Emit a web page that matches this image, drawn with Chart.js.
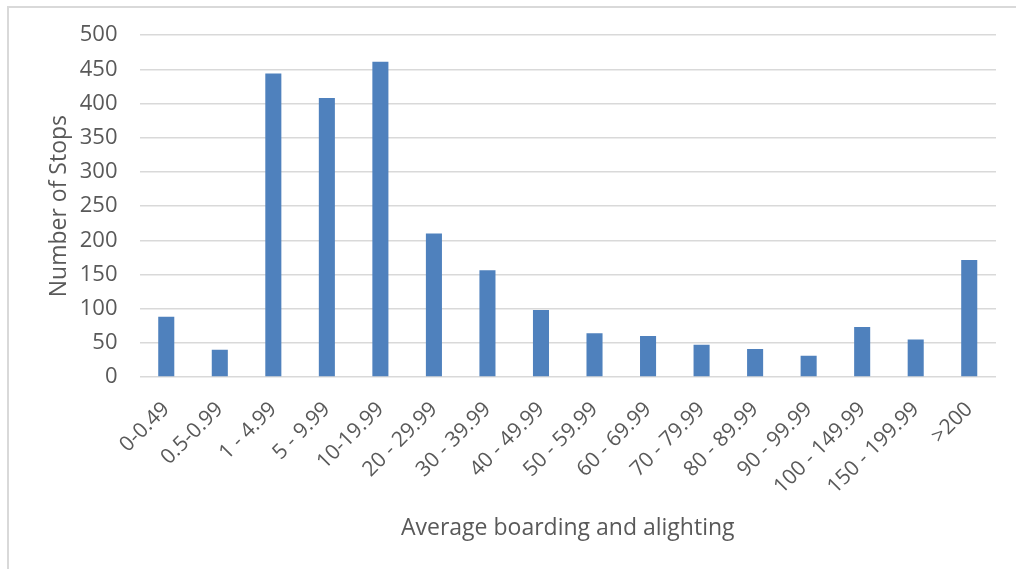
<!DOCTYPE html>
<html>
<head>
<meta charset="utf-8">
<script src="https://cdn.jsdelivr.net/npm/chart.js@4/dist/chart.umd.min.js"></script>
<style>
  html, body { margin: 0; padding: 0; background: #fff; }
  #wrap { position: relative; width: 1016px; height: 569px; overflow: hidden; }
  #frame { position: absolute; left: 7px; top: 6px; width: 1100px; height: 700px; border-top: 2px solid #D9D9D9; border-left: 2px solid #D9D9D9; box-sizing: border-box; }
  canvas { position: absolute; left: 0; top: 0; }
</style>
</head>
<body>
<div id="wrap">
  <div id="frame"></div>
  <canvas id="c" width="1016" height="569"></canvas>
</div>
<script>
const categories = ["0-0.49", "0.5-0.99", "1 - 4.99", "5 - 9.99", "10-19.99", "20 - 29.99", "30 - 39.99", "40 - 49.99", "50 - 59.99", "60 - 69.99", "70 - 79.99", "80 - 89.99", "90 - 99.99", "100 - 149.99", "150 - 199.99", ">200"];
const stopCounts = [88, 40, 444, 408, 461, 210, 156, 98, 64, 60, 47, 41, 31, 73, 55, 171];
const yTicks = [0, 50, 100, 150, 200, 250, 300, 350, 400, 450, 500];
const xTitle = "Average boarding and alighting";
const yTitle = "Number of Stops";

const textColor = "#595959";
const font = "'Open Sans', 'Liberation Sans', sans-serif";

new Chart(document.getElementById('c'), {
  type: 'bar',
  data: {
    labels: categories,
    datasets: [{
      data: stopCounts,
      backgroundColor: '#4F81BD',
      borderWidth: 0,
      categoryPercentage: 1.0,
      barPercentage: 0.30
    }]
  },
  options: {
    responsive: false,
    animation: false,
    devicePixelRatio: 1,
    layout: { padding: { left: 0, right: 20, top: 25, bottom: 0 } },
    plugins: { legend: { display: false }, tooltip: { enabled: false } },
    scales: {
      x: {
        grid: { display: false, drawTicks: false },
        border: { display: false },
        ticks: {
          color: textColor,
          font: { family: font, size: 21 },
          minRotation: 45,
          maxRotation: 45,
          padding: 20,
          autoSkip: false
        },
        title: {
          display: true,
          text: xTitle,
          color: textColor,
          font: { family: font, size: 23 },
          padding: { top: 0, bottom: 27 }
        },
        afterFit: (s) => { s.height = 192; }
      },
      y: {
        min: 0,
        max: 500,
        afterBuildTicks: (s) => { s.ticks = yTicks.map(v => ({ value: v })); },
        grid: { color: '#D9D9D9', lineWidth: 1.5, drawTicks: false },
        border: { display: false },
        ticks: {
          color: textColor,
          font: { family: font, size: 22 },
          padding: 22
        },
        title: {
          display: true,
          text: yTitle,
          color: textColor,
          font: { family: font, size: 23 },
          padding: { top: 46, bottom: 0 }
        },
        afterFit: (s) => { s.width = 139.5; }
      }
    }
  }
});
</script>
</body>
</html>
